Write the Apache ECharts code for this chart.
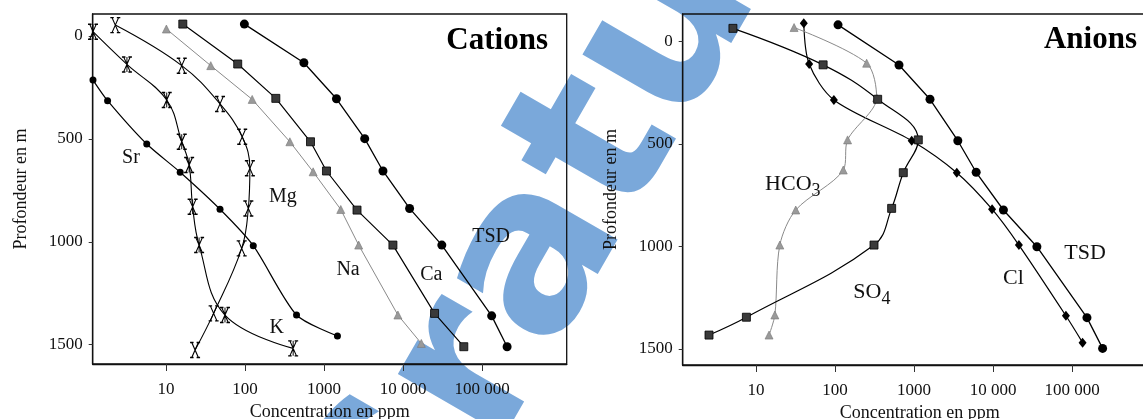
<!DOCTYPE html>
<html>
<head>
<meta charset="utf-8">
<script src="https://cdn.jsdelivr.net/npm/echarts@6/dist/echarts.min.js"></script>
<style>
  html, body { margin: 0; padding: 0; background: #fff; }
  #chart { width: 1143px; height: 419px; }
</style>
</head>
<body>
<div id="chart"></div>
<script>
// Axis ticks
const depthTicks = [0, 500, 1000, 1500];
const concTicks = [10, 100, 1000, 10000, 100000];
const concTickLabels = ['10', '100', '1000', '10 000', '100 000'];

// Cations — each point is [concentration (ppm), depth (m)]
const catTSD = [[98, -58], [555, 130], [1434, 305], [3266, 499], [5560, 656], [12080, 838], [30900, 1016], [132000, 1360], [207000, 1510]];
const catCa  = [[16.3, -58], [80.7, 136], [245, 303], [673, 514], [1072, 656], [2610, 846], [7430, 1016], [25000, 1348], [58600, 1510]];
const catNa  = [[10.1, -34], [36.8, 144], [123, 308], [369, 514], [727, 660], [1626, 843], [2740, 1016], [8590, 1356], [17000, 1494]];
const catSr  = [[1.19, 214], [1.82, 314], [5.7, 525], [15.1, 662], [48.2, 842], [127, 1019], [448, 1356], [1475, 1458]];
const catMg  = [[2.28, -53], [15.8, 144], [48.2, 330], [92, 490], [115, 643], [110, 838], [90.6, 1032], [40, 1348], [23.3, 1526]];
const catK   = [[1.19, -21], [3.2, 138], [10.2, 311], [15.8, 514], [19.6, 627], [21.7, 830], [26.2, 1016], [55.7, 1356], [406, 1518]];

// Anions
const anTSD  = [[109, -80], [644, 116], [1590, 283], [3575, 485], [6100, 639], [13500, 823], [35800, 1002], [154000, 1348], [243000, 1498]];
const anCl   = [[40.2, -88], [47, 111], [96.6, 286], [933, 485], [3470, 641], [9700, 819], [21200, 994], [83400, 1339], [135600, 1470]];
const anHCO3 = [[30.3, -67], [251, 107], [336, 275], [144, 481], [127, 628], [31.8, 823], [20, 994], [17.3, 1335], [14.6, 1433]];
const anSO4  = [[5.1, -63], [70.6, 115], [346, 283], [1130, 481], [730, 641], [520, 815], [311, 994], [7.55, 1346], [2.54, 1433]];

// Curve labels: [text, concentration, depth]
const catLabels = [['Sr', 3.6, 593], ['Mg', 301, 783], ['K', 251, 1420], ['Na', 2010, 1138], ['Ca', 22700, 1162], ['TSD', 130000, 976]];
const anLabels  = [['{n|HCO}{s|3}', 29.2, 696], ['{n|SO}{s|4}', 292, 1223], ['Cl', 18100, 1156], ['TSD', 146000, 1034]];

const serif = '"Liberation Serif", "Times New Roman", serif';
const ink = '#111';

// Serifed X, and the same X crossed by a vertical bar
const markX = 'path://M0,0 L3.5,0 M6.5,0 L10,0 M0,14 L3.5,14 M6.5,14 L10,14 M1.7,0 L8.3,14 M8.3,0 L1.7,14';
const markXBar = 'path://M0,0 L3.5,0 M6.5,0 L10,0 M0,14 L3.5,14 M6.5,14 L10,14 M1.7,0 L8.3,14 M8.3,0 L1.7,14 M5,0 L5,14';

function concLabel(v) {
  const i = concTicks.findIndex(t => Math.abs(t - v) / t < 1e-6);
  return i >= 0 ? concTickLabels[i] : '';
}

function makeXAxis(gridIndex) {
  return {
    type: 'log', logBase: 10, gridIndex,
    min: 1.18, max: 1.175e6,
    name: 'Concentration en ppm', nameLocation: 'middle', nameGap: 37,
    nameTextStyle: { fontFamily: serif, fontSize: 18, color: ink },
    axisLine: { show: true, onZero: false, lineStyle: { color: ink, width: 1.3 } },
    axisTick: { show: true, length: 7, customValues: concTicks, lineStyle: { color: '#333', width: 1 } },
    axisLabel: { customValues: concTicks, margin: 17, fontFamily: serif, fontSize: 17, color: ink, formatter: concLabel },
    splitLine: { show: false },
    minorTick: { show: false }
  };
}

function makeYAxis(gridIndex, min, max) {
  return {
    type: 'value', gridIndex, inverse: true, min, max,
    name: 'Profondeur en m', nameLocation: 'middle', nameGap: 62,
    nameTextStyle: { fontFamily: serif, fontSize: 18, color: ink },
    axisLine: { show: true, onZero: false, lineStyle: { color: ink, width: 1.3 } },
    axisTick: { show: true, length: 4, customValues: depthTicks, lineStyle: { color: '#333', width: 1 } },
    axisLabel: { customValues: depthTicks, margin: 10, fontFamily: serif, fontSize: 17, color: ink, formatter: v => String(v) },
    splitLine: { show: false }
  };
}

function profile(name, data, idx, opts) {
  return Object.assign({
    type: 'line', name, data,
    xAxisIndex: idx, yAxisIndex: idx,
    lineStyle: { color: '#000', width: 1.2 },
    itemStyle: { color: '#000' },
    symbol: 'circle', symbolSize: 8,
    clip: true, z: 3
  }, opts);
}

function labelSeries(items, idx, size) {
  return {
    type: 'scatter', xAxisIndex: idx, yAxisIndex: idx,
    symbolSize: 0, silent: true, z: 5,
    itemStyle: { opacity: 1 },
    data: items.map(([t, x, y]) => ({ name: t, value: [x, y] })),
    label: {
      show: true, position: 'inside', formatter: p => p.name, opacity: 1,
      fontFamily: serif, fontSize: size, color: ink, textBorderWidth: 0,
      rich: {
        n: { fontFamily: serif, fontSize: size, color: ink, verticalAlign: 'top', lineHeight: size },
        s: { fontFamily: serif, fontSize: size - 4, color: ink, verticalAlign: 'top', lineHeight: size - 4, padding: [9, 0, 0, 0] }
      }
    }
  };
}

const squareStyle = { color: '#3a3a3a', borderColor: '#000', borderWidth: 0.8 };
const triStyle = { color: '#9a9a9a', borderColor: '#777', borderWidth: 0.6 };
const crossStyle = { color: 'transparent', borderColor: '#000', borderWidth: 1.2 };

const chart = echarts.init(document.getElementById('chart'), null, { renderer: 'canvas' });
chart.setOption({
  animation: false,
  backgroundColor: '#fff',
  grid: [
    { left: 92.7, top: 14, width: 474, height: 350, show: true, borderColor: ink, borderWidth: 1.3, outerBoundsMode: 'none', containLabel: false },
    { left: 682.7, top: 14, width: 474, height: 351, show: true, borderColor: ink, borderWidth: 1.3, outerBoundsMode: 'none', containLabel: false }
  ],
  xAxis: [makeXAxis(0), makeXAxis(1)],
  yAxis: [makeYAxis(0, -107, 1594), makeYAxis(1, -133, 1579)],
  graphic: [
    {
      type: 'text', z: -10, x: 577, y: 193, rotation: Math.PI / 3,
      style: { text: 'Gratuit', fontFamily: '"DejaVu Sans"', fontWeight: 'bold', fontSize: 225, fill: '#7aa8da', align: 'center', verticalAlign: 'middle' }
    },
    {
      type: 'text', z: 10, x: 548, y: 41,
      style: { text: 'Cations', fontFamily: serif, fontWeight: 'bold', fontSize: 31, fill: '#000', align: 'right', verticalAlign: 'middle' }
    },
    {
      type: 'text', z: 10, x: 1137, y: 40,
      style: { text: 'Anions', fontFamily: serif, fontWeight: 'bold', fontSize: 31, fill: '#000', align: 'right', verticalAlign: 'middle' }
    }
  ],
  series: [
    profile('TSD', catTSD, 0, { symbolSize: 9, lineStyle: { color: '#000', width: 1.3 } }),
    profile('Ca', catCa, 0, { symbol: 'rect', symbolSize: 8, itemStyle: squareStyle }),
    profile('Na', catNa, 0, { symbol: 'triangle', symbolSize: 8, itemStyle: triStyle, lineStyle: { color: '#8a8a8a', width: 1 } }),
    profile('Sr', catSr, 0, { symbolSize: 7, smooth: 0.25 }),
    profile('Mg', catMg, 0, { symbol: markX, symbolSize: [10, 15], itemStyle: crossStyle, smooth: 0.4, lineStyle: { color: '#000', width: 1.1 } }),
    profile('K', catK, 0, { symbol: markXBar, symbolSize: [10, 15], itemStyle: crossStyle, smooth: 0.4, lineStyle: { color: '#000', width: 1.1 } }),
    labelSeries(catLabels, 0, 20),

    profile('TSD', anTSD, 1, { symbolSize: 9, lineStyle: { color: '#000', width: 1.3 } }),
    profile('Cl', anCl, 1, { symbol: 'diamond', symbolSize: [8, 10], smooth: 0.3 }),
    profile('HCO3', anHCO3, 1, { symbol: 'triangle', symbolSize: 8, itemStyle: triStyle, smooth: 0.3, lineStyle: { color: '#8a8a8a', width: 1 } }),
    profile('SO4', anSO4, 1, { symbol: 'rect', symbolSize: 8, itemStyle: squareStyle, smooth: 0.4 }),
    labelSeries(anLabels, 1, 22)
  ]
});
</script>
</body>
</html>
